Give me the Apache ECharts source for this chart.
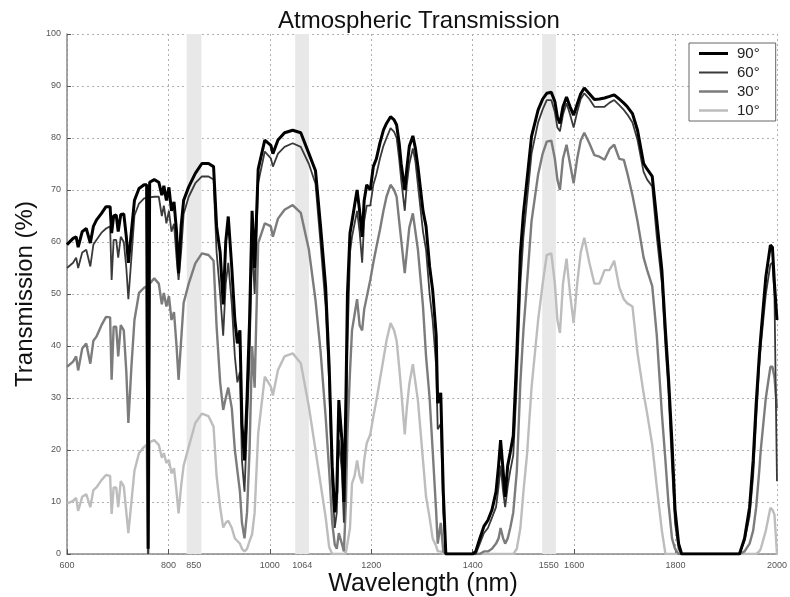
<!DOCTYPE html>
<html>
<head>
<meta charset="utf-8">
<script src="https://cdn.jsdelivr.net/npm/echarts@6/dist/echarts.min.js"></script>
<style>html,body{margin:0;padding:0;background:#fff;}#c{width:790px;height:597px;}</style>
</head>
<body>
<div id="c"></div>
<script>
// Wavelength samples (nm)
const wavelength = [600,612,618,622,630,638,646,652,658,668,
 677,685,688,692,697,701,706,712,717,721,
 727,733,742,752,757,760,763,772,781,787,
 791,796,801,806,811,816,820,825,830,840,
 853,866,879,889,895,902,908,913,918,925,
 931,936,941,945,950,955,960,965,970,977,
 990,1002,1006,1016,1029,1045,1061,1077,1090,1100,
 1110,1117,1123,1128,1132,1136,1142,1146,1150,1153,
 1158,1162,1167,1172,1177,1182,1186,1191,1198,1204,
 1210,1217,1224,1230,1238,1245,1250,1255,1259,1266,
 1270,1275,1282,1287,1292,1302,1308,1315,1321,1328,
 1331,1337,1342,1347,1400,1406,1414,1422,1430,1438,
 1446,1451,1455,1460,1464,1469,1474,1480,1487,1494,
 1500,1507,1516,1529,1538,1546,1555,1562,1567,1572,
 1578,1585,1592,1599,1606,1613,1620,1630,1640,1650,
 1660,1670,1679,1689,1698,1705,1715,1725,1737,1744,
 1754,1763,1773,1780,1786,1793,1799,1806,1812,1926,
 1936,1946,1953,1959,1965,1968,1978,1987,1991,1995,
 2000];

// Transmission (%) at elevation 90°
const t90 = [59.5,60.7,61,59,62,62.6,59.8,63,64.2,65.5,
 66.8,66.8,61.7,65,65.2,62,65.3,65.4,61,56,
 62,68,70.3,71,71,1,71.5,72,71.5,69,
 70.8,68,70.5,66,67.7,62,54,63,68,70.6,
 73.2,75.1,75.1,74.5,63,58,48,60,64.9,55,
 45,40.5,43,25,18,30,45,66,55,74,
 79.6,78.6,77,79.6,81,81.5,81,77,73.7,63,
 51.4,36,16.8,8,12,29.6,22,10,30,50,
 61.7,64,67,70,66,61,68,71,70,74.5,
 76,79,81.5,82.8,84.1,83.5,82.5,79,75,70,
 74,78.4,80.4,78,74.5,66,63,55.3,50.8,42,
 29,31,12,0,0,0.5,3,5.3,6.5,8.5,
 12,17,21.9,16,11,17,19.5,22.8,38.6,57.8,
 65.5,71.9,80.3,85.4,87.5,88.6,88.8,87,84,82.8,
 86,87.9,86,84.4,86.5,88.5,89.6,88.5,87.4,87.5,
 87.7,88,88.3,87.5,86.7,86,84.7,81.5,75.1,74,
 72.6,64.2,54.6,43,34,21.3,8.5,2,0,0,
 3,9,18,29,38,41.8,53.3,59.4,59,52,
 45];

// Transmission (%) at elevation 60°
const t60 = [55,56,57,55,58,58.5,55.3,59.5,60.4,61.8,
 62.6,63,52.7,60.4,60.4,57,61,60,55,49,
 57,65.1,67.4,68.4,68.5,0,68.6,68.7,68.7,65,
 67,63.6,66,62,63.5,57,52.7,58,65.4,68.7,
 71.3,72.6,72.6,72,58,50,42,52,56,48,
 38,33,35,18,12,25,38,60,50,71.4,
 77.4,76.1,74.5,77,78.3,79,78.3,75,71.2,59.7,
 47.6,32.7,13.5,5,8,22,16,6,20,40,
 58,61,63.5,66,62,56,64,67,67,71,
 73,76,78.5,80,81.9,81.2,80,76,72,66,
 71,75,78,75.5,71,62,58.5,50,45,36,
 24,25,8,0,0,0,2,4,5,7,
 9,13,17,12,9,13,16,19,33,52,
 61,68,77,83,85.5,87.3,87.3,85,82,81.3,
 84.5,86.7,84.5,82,85,87.5,88.6,87.5,86,86,
 86,86.8,87.3,86.3,85.4,84.5,83,79.6,73.5,72,
 70.7,61,52.1,40,31.4,17,5.9,1,0,0,
 2.5,7.3,15,26,36,40,50,55.7,56,50,
 14];

// Transmission (%) at elevation 30°
const t30 = [36,37,38,35.3,39.5,40.5,36.6,41,41.8,44,
 45.6,45.5,33.5,43.7,43.7,38,44,43,35,25.2,
 36,45,50.2,51.2,51.5,0,52,53,52,48,
 50.2,47.6,49.6,45,46.5,40,33.5,41,48.3,52,
 55.9,57.8,57.5,56.4,43.7,33,27.7,30,32,28,
 20,16,12,6,3,8,20,40,32,59.8,
 63.6,63,61,64.5,66.2,67.1,65.6,58.5,48.8,39,
 26.4,16,6,1.8,1,4,2,0.5,10,23,
 35,43,46,49,44,43,47,49.4,52.7,56,
 59,62.3,66,68.7,71,70,68.7,64,60.4,54,
 58,62.8,65.5,62,58.5,47.6,38,30,20,8,
 2,6,0.5,0,0,0,0,0.5,0.5,1,
 2,3,5,3,2,3,5,8,16,33,
 43,52,64,73,77,79.3,79.5,76,72,70,
 76,78.7,75,71.3,76,79.5,81,79,76.7,76.4,
 75.8,77.9,78.7,76,75.8,73.2,69,64,57,54.6,
 51.5,42,27,18,9.8,3,1,0,0,0,
 0.5,2,4.5,9,16,20,30,36,36,34,
 28];

// Transmission (%) at elevation 10°
const t10 = [9.7,10.2,10.8,8.3,11,11.5,9,12.3,12.8,14.2,
 15.2,15,7.7,12.8,12.8,9,14,13,8,4,
 10,16,19.4,20.6,21,0,21.5,21.9,21,18.5,
 19.4,17.5,18.1,15.5,16.5,12,7.8,13,17,20.6,
 25.2,27,26.5,24.5,15,9,5.1,6,6.4,5,
 3,2.5,2,1,0.5,1,2.5,3.8,8,23.2,
 34.1,32.2,30.5,35.4,38,38.6,36.7,28.3,20,13.5,
 7.1,1.3,0,0,0,0,0,0,0.3,0.5,
 5,13.6,15,18,15,13.6,18,21.3,23,26.4,
 29.5,33.5,37.5,41,44.4,43,41,36,31.5,23,
 28,32.7,36.5,33,29.5,18,11,7,3,1.5,
 0.5,0.5,0,0,0,0,0,0,0,0,
 0,0,0,0,0,0,0,0,1,5,
 12,19,32,45,52,57.5,57.8,52,45,42.5,
 52,56.8,50,44.4,52,58,60.8,56,52,52,
 54.6,54.6,56.4,51.3,49,48.2,47.6,38.6,30.9,27,
 21,12.9,4.5,0,0,0,0,0,0,0,
 0,0,0,0,0.5,1,4.5,8.9,8.5,7.6,
 0];

const seriesNames = ['90°', '60°', '30°', '10°'];
const xTickLabels = [600, 800, 850, 1000, 1064, 1200, 1400, 1550, 1600, 1800, 2000];
const laserBands = [[836, 865], [1050, 1077], [1537, 1564]];

[t90, t60, t30, t10].forEach(function (a, i) {
  if (a.length !== wavelength.length) throw new Error('length mismatch in series ' + i + ': ' + a.length + ' vs ' + wavelength.length);
});

function pairs(vals) { return wavelength.map(function (w, i) { return [w, vals[i]]; }); }

const FONT = "'Liberation Sans', Arial, Helvetica, sans-serif";
const styles = [
  { color: '#000000', width: 3, z: 6 },
  { color: '#3a3a3a', width: 1.8, z: 5 },
  { color: '#7c7c7c', width: 2.4, z: 4 },
  { color: '#bdbdbd', width: 2.4, z: 3 }
];
const values = [t90, t60, t30, t10];

// legend line icon: a horizontal bar of given thickness inside a 29x14 box
function lineIcon(th) {
  const a = (7 - th / 2).toFixed(2), b = (7 + th / 2).toFixed(2);
  return 'path://M0,0L0.01,0L0.01,0.01Z M0,' + a + 'L29,' + a + 'L29,' + b + 'L0,' + b + 'Z M28.99,14L29,14L29,13.99Z';
}

const series = values.map(function (v, i) {
  return {
    name: seriesNames[i],
    type: 'line',
    data: pairs(v),
    symbol: 'none',
    showSymbol: false,
    z: styles[i].z,
    lineStyle: { color: styles[i].color, width: styles[i].width },
    itemStyle: { color: styles[i].color },
    animation: false
  };
});
series.push({
  name: 'bands',
  type: 'line',
  data: [],
  z: 1,
  silent: true,
  markArea: {
    silent: true,
    itemStyle: { color: '#e8e8e8' },
    data: laserBands.map(function (b) { return [{ xAxis: b[0], yAxis: 0 }, { xAxis: b[1], yAxis: 100 }]; })
  }
});

const chart = echarts.init(document.getElementById('c'), null, { renderer: 'canvas' });
chart.setOption({
  animation: false,
  backgroundColor: '#ffffff',
  title: {
    text: 'Atmospheric Transmission',
    left: 273,
    top: 4,
    textStyle: { fontFamily: FONT, fontSize: 24, fontWeight: 'normal', color: '#111' }
  },
  grid: { left: 67, right: 6, top: 34, bottom: 43 },
  legend: {
    data: seriesNames.map(function (n, i) {
      return { name: n, icon: lineIcon(styles[i].width), itemStyle: { color: styles[i].color } };
    }),
    orient: 'vertical',
    left: 689,
    top: 43,
    padding: [3, 16, 3, 10],
    itemWidth: 29,
    itemHeight: 14,
    itemGap: 4,
    backgroundColor: '#ffffff',
    borderColor: '#666',
    borderWidth: 1,
    textStyle: { fontFamily: FONT, fontSize: 15, color: '#222', padding: [0, 0, 0, 4] }
  },
  xAxis: {
    type: 'value',
    min: 600,
    max: 2000,
    interval: 200,
    axisLine: { show: true, lineStyle: { color: '#8a8a8a', width: 1.5 } },
    axisTick: { show: true, inside: true, length: 5, lineStyle: { color: '#555' } },
    axisLabel: {
      customValues: xTickLabels,
      formatter: function (v) { return String(v); },
      margin: 7,
      fontFamily: FONT,
      fontSize: 9,
      color: '#555',
      hideOverlap: false
    },
    splitLine: { show: true, lineStyle: { color: '#b0b0b0', type: [2, 3], width: 1 } }
  },
  yAxis: {
    type: 'value',
    min: 0,
    max: 100,
    interval: 10,
    axisLine: { show: true, lineStyle: { color: '#8a8a8a', width: 1.5 } },
    axisTick: { show: true, inside: true, length: 4, lineStyle: { color: '#555' } },
    axisLabel: { margin: 6, formatter: function (v) { return String(v); }, fontFamily: FONT, fontSize: 9, color: '#555' },
    splitLine: { show: true, lineStyle: { color: '#b0b0b0', type: [2, 3], width: 1 } }
  },
  graphic: [
    {
      type: 'text',
      x: 25,
      y: 294,
      rotation: Math.PI / 2,
      style: { text: 'Transmission (%)', fontFamily: FONT, fontSize: 24, fill: '#111', align: 'center', verticalAlign: 'middle' }
    },
    {
      type: 'text',
      x: 423,
      y: 584,
      style: { text: 'Wavelength (nm)', fontFamily: FONT, fontSize: 25, fill: '#111', align: 'center', verticalAlign: 'middle' }
    }
  ],
  series: series
});
</script>
</body>
</html>
